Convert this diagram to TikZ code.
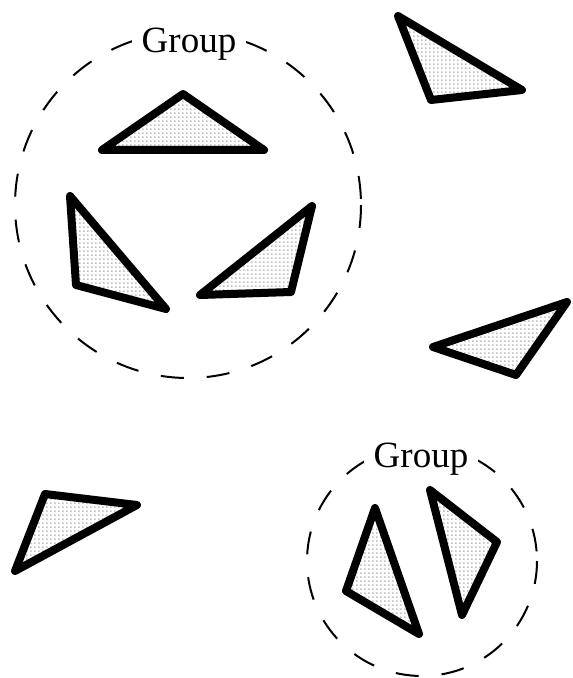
\documentclass[tikz,border=0pt]{standalone}
\usepackage{fontspec}
\setmainfont{Liberation Serif}
\usepackage{tikz}
\usetikzlibrary{patterns}
% fine stipple used inside the pieces
\pgfdeclarepatternformonly{stipple}{\pgfpointorigin}{\pgfqpoint{2.2pt}{2.2pt}}{\pgfqpoint{2.2pt}{2.2pt}}{%
    \pgfpathcircle{\pgfqpoint{1.1pt}{1.1pt}}{0.3pt}\pgfusepath{fill}}

\begin{document}
\begin{tikzpicture}[x=0.5pt, y=-0.5pt,
    piece/.style={line width=4pt, line join=round, pattern=stipple},
    groupring/.style={line width=1pt, dash pattern=on 11.5pt off 11.5pt},
    grouplabel/.style={fill=white, inner sep=5pt, anchor=base,
        font=\fontsize{18.5}{20}\selectfont}]
    \useasboundingbox (0,0) rectangle (572,678);
    % first group: ring and three pieces
    \draw[groupring] (188,205) circle (173);
    \node[grouplabel] (label1) at (189,53) {Group};
    \draw[piece] (102,150) -- (183,94) -- (264,150) -- cycle;
    \draw[piece] (70,196) -- (76,285) -- (166,309) -- cycle;
    \draw[piece] (312,206) -- (291,292) -- (200,295) -- cycle;
    % second group: ring and two pieces
    \draw[groupring] (422,561) circle (115);
    \node[grouplabel] (label2) at (421,467) {Group};
    \draw[piece] (375,508) -- (346,591) -- (419,634) -- cycle;
    \draw[piece] (430,490) -- (497,542) -- (462,615) -- cycle;
    % pieces outside any group
    \draw[piece] (398,16) -- (522,90) -- (431,100) -- cycle;
    \draw[piece] (567,302) -- (433,347) -- (516,375) -- cycle;
    \draw[piece] (45,494) -- (137,505) -- (15,571) -- cycle;
\end{tikzpicture}
\end{document}
